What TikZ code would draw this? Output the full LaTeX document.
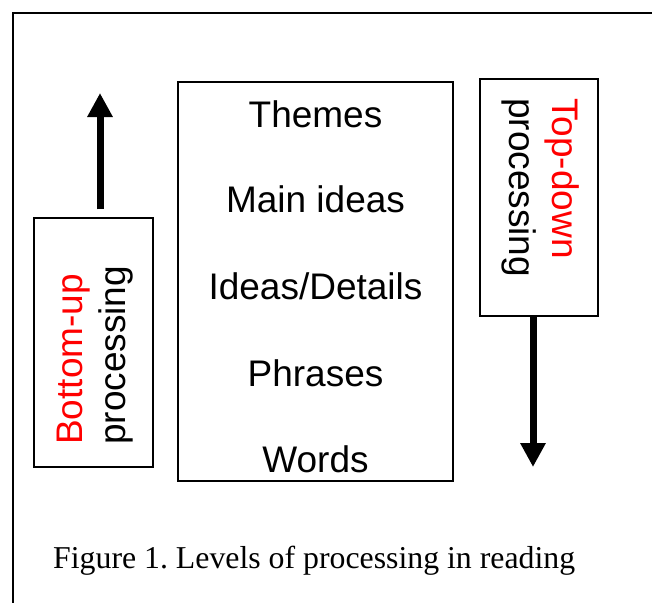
\documentclass[tikz,border=0pt]{standalone}
\usepackage{fontspec}
\setmainfont{Liberation Serif}
\newfontfamily\arialfont{Liberation Sans}
\usetikzlibrary{positioning,arrows.meta}
\frenchspacing

\begin{document}
\begin{tikzpicture}[x=1pt, y=-1pt,
    box/.style={draw, line width=1.5pt, inner sep=0pt},
    level/.style={font=\arialfont\fontsize{37}{43}\selectfont, inner sep=0pt, anchor=base},
    side/.style={font=\arialfont\fontsize{37}{43}\selectfont, inner sep=0pt, anchor=base west},
    flow/.style={line width=7pt, -{Triangle[length=24pt, width=24pt]}}]
    \clip (0,0) rectangle (652,602);
    % outer frame, cut off at the right and bottom
    \draw[line width=2pt] (13,640) |- (680,13);

    % boxes
    \node [box, minimum width=119pt, minimum height=249pt] (BU) at (93.5,342.5) {};
    \node [box, minimum width=275pt, minimum height=399pt] (LV) at (315.5,281.5) {};
    \node [box, minimum width=118pt, minimum height=237pt] (TD) at (539,197.5) {};

    % levels
    \node [level] (themes) at (315.5,127) {Themes};
    \node [level] (main) at (315.5,212) {Main ideas};
    \node [level] (details) at (315.5,299) {Ideas/Details};
    \node [level] (phrases) at (315.5,386) {Phrases};
    \node [level] (words) at (315.5,472) {Words};

    % side labels
    \node [side, rotate=90, red] (bu1) at (82,445) {Bottom-up};
    \node [side, rotate=90] (bu2) at (125,445) {processing};
    \node [side, rotate=-90, red] (td1) at (552,98) {Top-down};
    \node [side, rotate=-90] (td2) at (509,98) {processing};

    % arrows
    \coordinate (upTip) at (100,93);
    \coordinate (downTip) at (533,467);
    \draw [flow, shorten <=8pt] (BU.north -| upTip) -- (upTip);
    \draw [flow] (TD.south -| downTip) -- (downTip);

    \node [anchor=base west, inner sep=0pt, font=\fontsize{31.8}{38}\selectfont] (caption) at (53,568)
        {Figure 1. Levels of processing in reading};
\end{tikzpicture}
\end{document}
